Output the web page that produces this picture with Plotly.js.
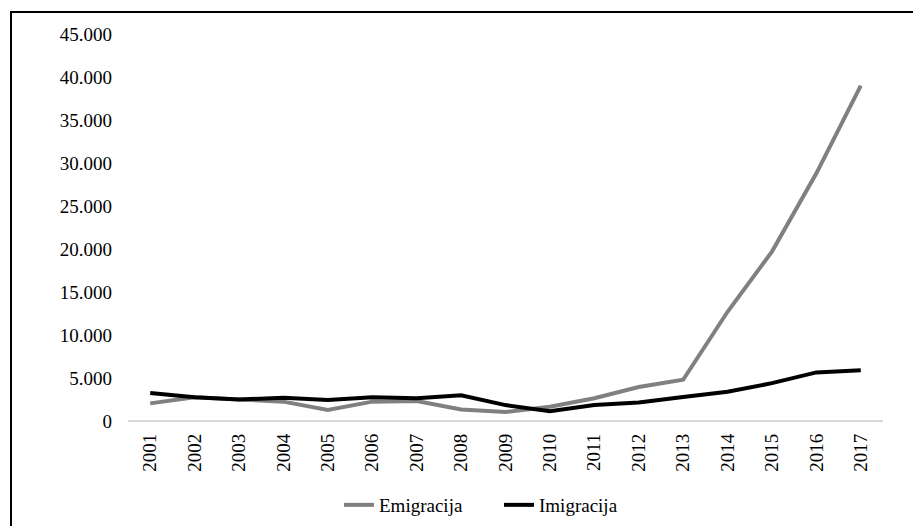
<!DOCTYPE html>
<html>
<head>
<meta charset="utf-8">
<script src="https://cdn.plot.ly/plotly-3.0.1.min.js"></script>
<style>
  html, body { margin: 0; padding: 0; background: #fff; }
  #wrap { position: relative; width: 913px; height: 526px; overflow: hidden; }
  #chart { width: 913px; height: 526px; }
  #frame { position: absolute; left: 10px; top: 11px; width: 920px; height: 540px;
           border-left: 2px solid #000; border-top: 2px solid #000; pointer-events: none; box-sizing: border-box; }
</style>
</head>
<body>
<div id="wrap">
  <div id="chart"></div>
  <div id="frame"></div>
</div>
<script>
const years = ['2001','2002','2003','2004','2005','2006','2007','2008','2009','2010','2011','2012','2013','2014','2015','2016','2017'];
const emigracija = [2050, 2750, 2500, 2250, 1280, 2250, 2330, 1350, 1050, 1650, 2650, 3950, 4800, 12700, 19700, 28800, 39000];
const imigracija = [3250, 2750, 2500, 2700, 2440, 2750, 2640, 3000, 1850, 1150, 1850, 2150, 2800, 3400, 4400, 5650, 5900];
const yTicks = [0, 5000, 10000, 15000, 20000, 25000, 30000, 35000, 40000, 45000];

const font = {family: 'Liberation Serif, Times New Roman, serif', size: 19, color: '#000'};

const data = [
  {x: years, y: emigracija, name: 'Emigracija', type: 'scatter', mode: 'lines',
   line: {color: '#808080', width: 4}},
  {x: years, y: imigracija, name: 'Imigracija', type: 'scatter', mode: 'lines',
   line: {color: '#000000', width: 4}}
];

const layout = {
  width: 913, height: 526,
  margin: {l: 128, r: 30, t: 34, b: 105},
  paper_bgcolor: '#fff', plot_bgcolor: '#fff',
  separators: ',.',
  font: font,
  showlegend: true,
  legend: {orientation: 'h', x: 339 / 913, xref: 'container', xanchor: 'left',
           y: 21 / 526, yref: 'container', yanchor: 'middle',
           font: font, itemwidth: 30, tracegroupgap: 0,
           entrywidth: 115, entrywidthmode: 'pixels'},
  xaxis: {type: 'category', range: [-0.5, years.length - 0.5], tickangle: -90,
          showgrid: false, zeroline: false, automargin: false,
          showline: false, ticks: '', tickfont: font, ticklabelstandoff: 8,
          fixedrange: true},
  yaxis: {range: [0, 45000], tickvals: yTicks, tickformat: ',d', showgrid: false,
          zeroline: true, zerolinecolor: '#d9d9d9', zerolinewidth: 2, automargin: false,
          showline: false, ticks: '', tickfont: font, ticklabelstandoff: 15,
          fixedrange: true}
};

Plotly.newPlot('chart', data, layout, {displayModeBar: false, staticPlot: true});
</script>
</body>
</html>
